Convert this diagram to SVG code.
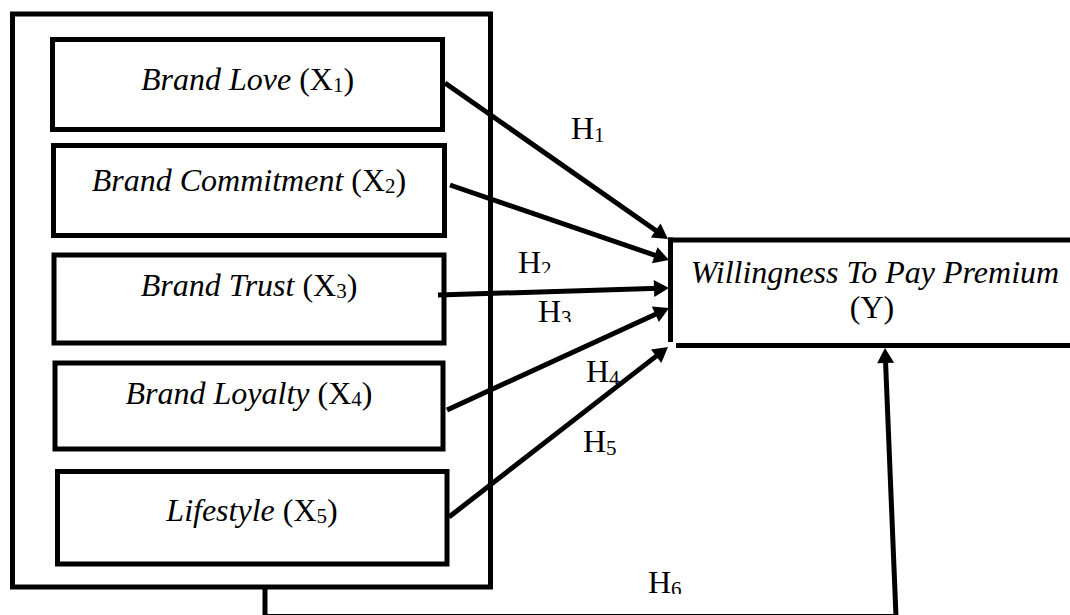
<svg xmlns="http://www.w3.org/2000/svg" width="1070" height="615" viewBox="0 0 1070 615">
<style>
.box{fill:#fff;stroke:#000;stroke-width:5}
.lbl{font-family:"Liberation Serif","Times New Roman",serif;font-size:32px;fill:#000;text-anchor:middle}
.it{font-style:italic}
.sub{font-size:21px}
.h{font-family:"Liberation Serif","Times New Roman",serif;font-size:32px;fill:#000}
.con{fill:none;stroke:#000;stroke-width:5}
.arr{marker-end:url(#ah)}
</style>
<defs>
<marker id="ah" markerUnits="userSpaceOnUse" markerWidth="16" markerHeight="18" refX="5" refY="8.5" orient="auto" overflow="visible">
<path d="M0,0 L15,8.5 L0,17 z" fill="#000"/>
</marker>
<clipPath id="c1"><rect x="560" y="100" width="60" height="42"/></clipPath>
<clipPath id="c2"><rect x="510" y="240" width="60" height="33"/></clipPath>
<clipPath id="c3"><rect x="530" y="290" width="60" height="32"/></clipPath>
<clipPath id="c4"><rect x="580" y="350" width="60" height="34"/></clipPath>
<clipPath id="c6"><rect x="640" y="560" width="60" height="34"/></clipPath>
</defs>
<rect width="1070" height="615" fill="#fff"/>
<g id="outer">
<rect x="12.5" y="14" width="478" height="573" class="box"/>
</g>
<g id="x1">
<rect x="52.5" y="39.5" width="390" height="90" class="box"/>
<text x="247.5" y="90" class="lbl"><tspan class="it">Brand Love</tspan> (X<tspan class="sub" dy="2">1</tspan><tspan dy="-2">)</tspan></text>
</g>
<g id="x2">
<rect x="53.5" y="145.5" width="391" height="90" class="box"/>
<text x="249" y="191" class="lbl"><tspan class="it">Brand Commitment</tspan> (X<tspan class="sub" dy="2">2</tspan><tspan dy="-2">)</tspan></text>
</g>
<g id="x3">
<rect x="54" y="255" width="390" height="88" class="box"/>
<text x="249" y="296" class="lbl"><tspan class="it">Brand Trust</tspan> (X<tspan class="sub" dy="2">3</tspan><tspan dy="-2">)</tspan></text>
</g>
<g id="x4">
<rect x="55" y="363" width="388" height="86" class="box"/>
<text x="249" y="404" class="lbl"><tspan class="it">Brand Loyalty</tspan> (X<tspan class="sub" dy="2">4</tspan><tspan dy="-2">)</tspan></text>
</g>
<g id="x5">
<rect x="57.5" y="471.5" width="389.5" height="92.5" class="box"/>
<text x="252" y="521" class="lbl"><tspan class="it">Lifestyle</tspan> (X<tspan class="sub" dy="2">5</tspan><tspan dy="-2">)</tspan></text>
</g>
<g id="y">
<line x1="670.5" y1="237.5" x2="670.5" y2="342" class="con"/>
<line x1="668" y1="240" x2="1070" y2="240" class="con"/>
<line x1="676" y1="345.5" x2="1070" y2="345.5" class="con"/>
<text x="875" y="283" class="lbl it" font-size="31">Willingness To Pay Premium</text>
<text x="872" y="318" class="lbl" font-size="31">(Y)</text>
</g>
<g id="connectors">
<line x1="445" y1="83" x2="659.8" y2="233.3" class="con arr"/>
<line x1="450" y1="185" x2="659.5" y2="256.8" class="con arr"/>
<line x1="438" y1="295" x2="659" y2="288.3" class="con arr"/>
<line x1="447" y1="410" x2="659.9" y2="312.2" class="con arr"/>
<line x1="449" y1="517" x2="660.1" y2="353.1" class="con arr"/>
<path d="M265,589 V616.5 H896 L885.4,358" class="con arr"/>
</g>
<g id="labels">
<text x="571" y="139" class="h" clip-path="url(#c1)">H<tspan class="sub" dy="3">1</tspan></text>
<text x="518" y="273" class="h" clip-path="url(#c2)">H<tspan class="sub" dy="3">2</tspan></text>
<text x="538" y="322" class="h" clip-path="url(#c3)">H<tspan class="sub" dy="3">3</tspan></text>
<text x="586" y="382" class="h" clip-path="url(#c4)">H<tspan class="sub" dy="3">4</tspan></text>
<text x="583" y="452" class="h">H<tspan class="sub" dy="3">5</tspan></text>
<text x="648" y="593" class="h" clip-path="url(#c6)">H<tspan class="sub" dy="3">6</tspan></text>
</g>
</svg>
